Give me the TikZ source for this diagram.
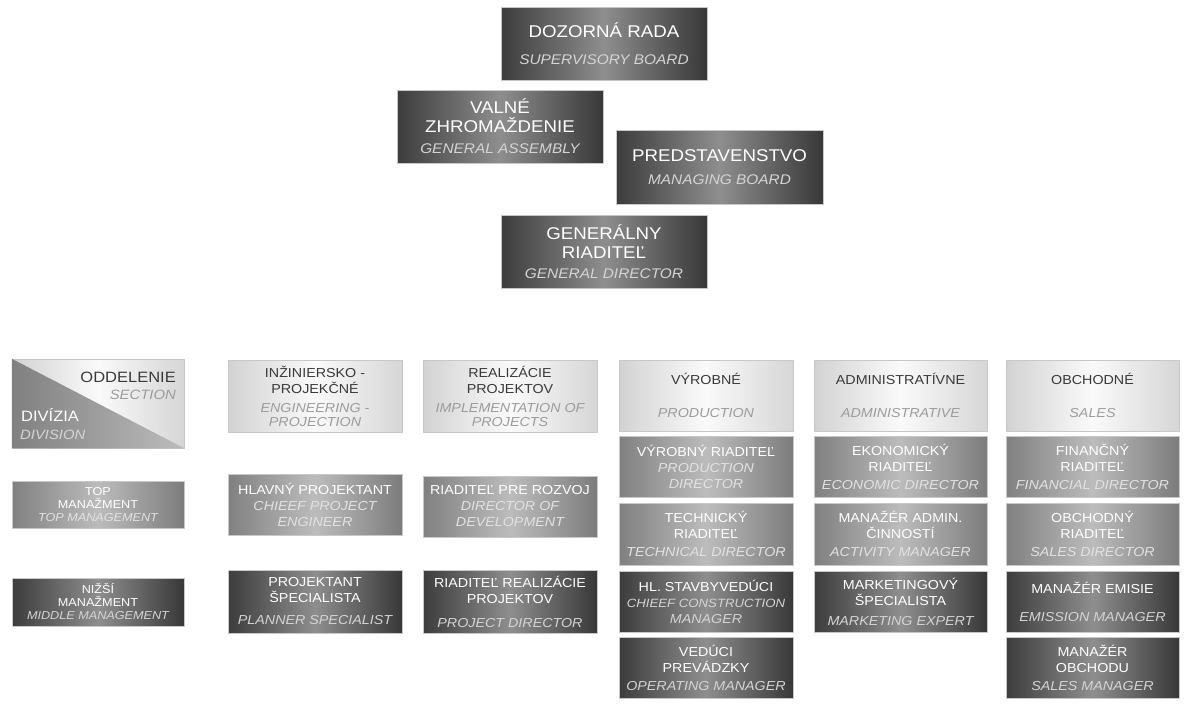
\documentclass[tikz,border=0pt]{standalone}
\usepackage{fontspec}
\setmainfont[FakeStretch=1.1]{Liberation Sans}
\definecolor{dkL}{HTML}{3C3C3C}
\definecolor{dkM}{HTML}{8E8E8E}
\definecolor{dkR}{HTML}{383838}
\definecolor{mdL}{HTML}{808080}
\definecolor{mdM}{HTML}{BCBCBC}
\definecolor{mdR}{HTML}{7C7C7C}
\definecolor{ltL}{HTML}{D2D2D2}
\definecolor{ltM}{HTML}{FAFAFA}
\definecolor{ltR}{HTML}{D6D6D6}
\definecolor{edge}{HTML}{C8C8C8}
\definecolor{enDark}{HTML}{D4D4D4}
\definecolor{enMid}{HTML}{E2E2E2}
\definecolor{enLight}{HTML}{9C9C9C}
\definecolor{skLight}{HTML}{3A3A3A}
\newcommand\ent[1]{{\fontsize{14}{16}\selectfont\itshape\color{enDark}#1}}
\newcommand\en[1]{{\itshape\color{enDark}#1}}
\newcommand\enm[1]{{\itshape\color{enMid}#1}}
\newcommand\enl[1]{{\itshape\color{enLight}#1}}
\tikzset{
  orgbase/.style={draw=edge, line width=0.5pt, inner sep=0pt, align=center},
  darkbox/.style={orgbase, left color=dkL, right color=dkR, middle color=dkM, text=white},
  midbox/.style={orgbase, left color=mdL, right color=mdR, middle color=mdM, text=white},
  lightbox/.style={orgbase, left color=ltL, right color=ltR, middle color=ltM, text=skLight},
  topfont/.style={font=\fontsize{17}{19}\selectfont},
  botfont/.style={font=\fontsize{13}{16}\selectfont},
  smallfont/.style={font=\fontsize{11.5}{13}\selectfont},
}
\newcommand\orgbox[7]{%
  \node[#2, minimum width={(#5-#3)*1pt}, minimum height={(#6-#4)*1pt}]
    (#1) at ({(#3+#5)/2},{(#4+#6)/2}) {#7};}
\begin{document}
\begin{tikzpicture}[x=1pt,y=-1pt]
\useasboundingbox (0,0) rectangle (1191,712);
\fill[white] (0,0) rectangle (1191,712);
% top
\orgbox{dr}{darkbox,topfont}{501}{7}{707}{80}{DOZORNÁ RADA\\[8pt]\ent{SUPERVISORY BOARD}}
\orgbox{vz}{darkbox,topfont}{397}{90}{603}{163}{VALNÉ\\ZHROMAŽDENIE\\[2pt]\ent{GENERAL ASSEMBLY}}
\orgbox{ps}{darkbox,topfont}{616}{130}{823}{204}{PREDSTAVENSTVO\\[4pt]\ent{MANAGING BOARD}}
\orgbox{gr}{darkbox,topfont}{501}{215}{707}{288}{GENERÁLNY\\RIADITEĽ\\[1pt]\ent{GENERAL DIRECTOR}}
% legend column
\node[lightbox, minimum width=172pt, minimum height=89pt] (div) at (98,403.5) {};
\shade[left color=mdL, right color=mdM] (div.north west) -- (div.south east) -- (div.south west) -- cycle;
\node[anchor=base east, inner sep=0pt, text=skLight, font=\fontsize{15}{17}\selectfont] (odd) at (176,382) {ODDELENIE};
\node[anchor=base east, inner sep=0pt, font=\fontsize{13.5}{16}\selectfont] (sec) at (176,399) {\enl{SECTION}};
\node[anchor=base west, inner sep=0pt, text=white, font=\fontsize{15}{17}\selectfont] (dvz) at (21,421) {DIVÍZIA};
\node[anchor=base west, inner sep=0pt, font=\fontsize{13.5}{16}\selectfont] (dvs) at (20,439) {\en{DIVISION}};
\orgbox{tm}{midbox,smallfont}{12}{481}{184}{528}{TOP\\MANAŽMENT\\\enm{TOP MANAGEMENT}}
\orgbox{nm}{darkbox,smallfont}{12}{578}{184}{626}{NIŽŠÍ\\MANAŽMENT\\\en{MIDDLE MANAGEMENT}}
% column 2
\orgbox{ip}{lightbox,botfont}{228}{360}{402}{432}{INŽINIERSKO -\\PROJEKČNÉ\\[3pt]\enl{ENGINEERING -}\\[-2pt]\enl{PROJECTION}}
\orgbox{hp}{midbox,botfont}{228}{474}{402}{535}{HLAVNÝ PROJEKTANT\\\enm{CHIEEF PROJECT}\\\enm{ENGINEER}}
\orgbox{psp}{darkbox,botfont}{228}{570}{402}{633}{PROJEKTANT\\ŠPECIALISTA\\[6pt]\en{PLANNER SPECIALIST}}
% column 3
\orgbox{rp}{lightbox,botfont}{423}{360}{597}{432}{REALIZÁCIE\\PROJEKTOV\\[3pt]\enl{IMPLEMENTATION OF}\\[-2pt]\enl{PROJECTS}}
\orgbox{rr}{midbox,botfont}{423}{476}{597}{537}{RIADITEĽ PRE ROZVOJ\\\enm{DIRECTOR OF}\\\enm{DEVELOPMENT}}
\orgbox{rrp}{darkbox,botfont}{423}{570}{597}{633}{RIADITEĽ REALIZÁCIE\\PROJEKTOV\\[8pt]\en{PROJECT DIRECTOR}}
% column 4
\orgbox{vy}{lightbox,botfont}{619}{360}{793}{431}{VÝROBNÉ\\[17pt]\enl{PRODUCTION}}
\orgbox{vr}{midbox,botfont}{619}{436}{793}{497}{VÝROBNÝ RIADITEĽ\\\enm{PRODUCTION}\\\enm{DIRECTOR}}
\orgbox{tr}{midbox,botfont}{619}{503}{793}{565}{TECHNICKÝ\\RIADITEĽ\\[2pt]\enm{TECHNICAL DIRECTOR}}
\orgbox{hs}{darkbox,botfont}{619}{571}{793}{632}{HL. STAVBYVEDÚCI\\{\fontsize{12}{16}\selectfont\en{CHIEEF CONSTRUCTION}}\\\en{MANAGER}}
\orgbox{vp}{darkbox,botfont}{619}{637}{793}{698}{VEDÚCI\\PREVÁDZKY\\[2pt]\en{OPERATING MANAGER}}
% column 5
\orgbox{ad}{lightbox,botfont}{814}{360}{987}{431}{ADMINISTRATÍVNE\\[17pt]\enl{ADMINISTRATIVE}}
\orgbox{er}{midbox,botfont}{814}{436}{987}{497}{EKONOMICKÝ\\RIADITEĽ\\[2pt]\enm{ECONOMIC DIRECTOR}}
\orgbox{ma}{midbox,botfont}{814}{503}{987}{565}{MANAŽÉR ADMIN.\\ČINNOSTÍ\\[2pt]\enm{ACTIVITY MANAGER}}
\orgbox{ms}{darkbox,botfont}{814}{571}{987}{632}{MARKETINGOVÝ\\ŠPECIALISTA\\[4pt]\en{MARKETING EXPERT}}
% column 6
\orgbox{ob}{lightbox,botfont}{1006}{360}{1179}{431}{OBCHODNÉ\\[17pt]\enl{SALES}}
\orgbox{fr}{midbox,botfont}{1006}{436}{1179}{497}{FINANČNÝ\\RIADITEĽ\\[2pt]\enm{FINANCIAL DIRECTOR}}
\orgbox{or}{midbox,botfont}{1006}{503}{1179}{565}{OBCHODNÝ\\RIADITEĽ\\[2pt]\enm{SALES DIRECTOR}}
\orgbox{me}{darkbox,botfont}{1006}{571}{1179}{632}{MANAŽÉR EMISIE\\[12pt]\en{EMISSION MANAGER}}
\orgbox{mo}{darkbox,botfont}{1006}{637}{1179}{698}{MANAŽÉR\\OBCHODU\\[2pt]\en{SALES MANAGER}}
\end{tikzpicture}
\end{document}
